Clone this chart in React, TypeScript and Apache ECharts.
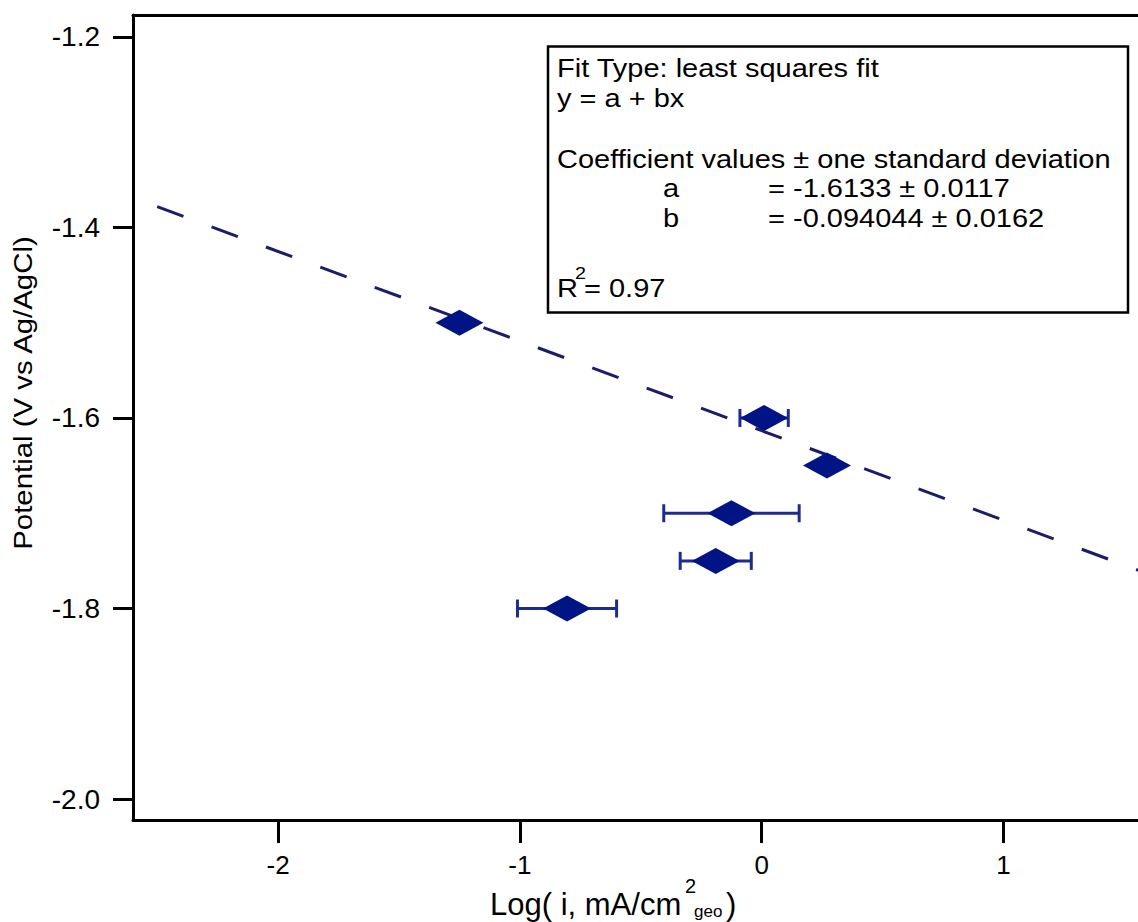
import React, { useEffect, useRef } from "react";
import * as echarts from "echarts";

// ---- data ----
const xTicks = [-2, -1, 0, 1];
const yTicks = [-2.0, -1.8, -1.6, -1.4, -1.2];
const logI = [-1.25, 0.01, 0.27, -0.125, -0.19, -0.805];
const potential = [-1.5, -1.6, -1.65, -1.7, -1.75, -1.8];
const logIErr = [0, 0.1, 0.02, 0.28, 0.147, 0.205];
const fitX = [-2.5, 1.7];
const fitY = [-1.3782, -1.7732];
const fitLines = [
  "Fit Type: least squares fit",
  "y = a + bx",
  "Coefficient values ± one standard deviation",
];
const coefNames = ["a", "b"];
const coefValues = ["= -1.6133 ± 0.0117", "= -0.094044 ± 0.0162"];
const rSquared = "= 0.97";

const FONT = "'Liberation Sans', Arial, Helvetica, sans-serif";
const NAVY = "#001485";
const BAR = "#1e2b8f";
const FITCOL = "#1c1c68";

export default function App() {
  const ref = useRef<HTMLDivElement>(null);
  useEffect(() => {
    if (!ref.current) return;
    const chart = echarts.init(ref.current, undefined, { renderer: "svg" });
    const fs = 25;
    const sx = 1.16;
    const mid = (baseline: number, size: number) => baseline - 0.3465 * size;
    const boxText = (text: string, x: number, baseline: number) => ({
      type: "text",
      x,
      y: mid(baseline, fs),
      scaleX: sx,
      z: 101,
      style: {
        text,
        fill: "#000",
        fontSize: fs,
        fontFamily: FONT,
        align: "left",
        verticalAlign: "middle",
      },
    });
    const xMin = -2.6;
    const xMax = -2.6 + 1005 / 241.8;
    const option: any = {
      animation: false,
      backgroundColor: "#fff",
      grid: {
        left: 133,
        top: 15,
        right: 0,
        height: 805,
        show: false,
        containLabel: false,
      },
      xAxis: [
        {
          type: "value",
          min: xMin,
          max: xMax,
          axisLine: { show: true, onZero: false, lineStyle: { color: "#000", width: 3 } },
          axisTick: {
            show: true,
            inside: false,
            length: 23,
            customValues: xTicks,
            lineStyle: { color: "#000", width: 3 },
          },
          axisLabel: {
            customValues: xTicks,
            margin: 32,
            fontSize: 26,
            fontFamily: FONT,
            color: "#000",
          },
          splitLine: { show: false },
        },
        {
          type: "value",
          position: "top",
          min: xMin,
          max: xMax,
          axisLine: { show: true, onZero: false, lineStyle: { color: "#000", width: 3 } },
          axisTick: { show: false },
          axisLabel: { show: false },
          splitLine: { show: false },
        },
      ],
      yAxis: {
        type: "value",
        min: -2.022,
        max: -1.177,
        axisLine: { show: true, onZero: false, lineStyle: { color: "#000", width: 3 } },
        axisTick: {
          show: true,
          inside: false,
          length: 20,
          customValues: yTicks,
          lineStyle: { color: "#000", width: 3 },
        },
        axisLabel: {
          customValues: yTicks,
          margin: 33,
          fontSize: 28,
          fontFamily: FONT,
          color: "#000",
          formatter: (v: number) => v.toFixed(1),
        },
        splitLine: { show: false },
      },
      series: [
        {
          type: "line",
          data: fitX.map((x, i) => [x, fitY[i]]),
          symbol: "none",
          clip: true,
          z: 2,
          lineStyle: { color: FITCOL, width: 3, type: [28, 30] },
        },
        {
          type: "custom",
          z: 3,
          data: logI.map((x, i) => [x, potential[i], logIErr[i]]),
          encode: { x: 0, y: 1 },
          renderItem: (_p: any, api: any) => {
            const x = api.value(0);
            const y = api.value(1);
            const e = api.value(2);
            if (!e) return { type: "group", children: [] };
            const p1 = api.coord([x - e, y]);
            const p2 = api.coord([x + e, y]);
            const h = 9;
            const style = { stroke: BAR, lineWidth: 3 };
            return {
              type: "group",
              children: [
                { type: "line", shape: { x1: p1[0], y1: p1[1], x2: p2[0], y2: p2[1] }, style },
                { type: "line", shape: { x1: p1[0], y1: p1[1] - h, x2: p1[0], y2: p1[1] + h }, style },
                { type: "line", shape: { x1: p2[0], y1: p2[1] - h, x2: p2[0], y2: p2[1] + h }, style },
              ],
            };
          },
        },
        {
          type: "scatter",
          z: 4,
          symbol: "diamond",
          symbolSize: [48, 26],
          data: logI.map((x, i) => [x, potential[i]]),
          itemStyle: { color: NAVY, opacity: 1 },
        },
      ],
      graphic: [
        {
          type: "rect",
          z: 100,
          shape: { x: 548, y: 46.5, width: 580, height: 266 },
          style: { fill: "#fff", stroke: "#000", lineWidth: 2.5 },
        },
        boxText(fitLines[0], 557, 77),
        boxText(fitLines[1], 557, 107),
        boxText(fitLines[2], 557, 168),
        boxText(coefNames[0], 663, 197),
        boxText(coefValues[0], 768, 197),
        boxText(coefNames[1], 663, 227),
        boxText(coefValues[1], 768, 227),
        boxText("R", 557, 297),
        {
          type: "text",
          x: 575,
          y: mid(279, 17),
          scaleX: sx,
          z: 101,
          style: { text: "2", fill: "#000", fontSize: 17, fontFamily: FONT, align: "left", verticalAlign: "middle" },
        },
        boxText(rSquared, 584, 297),
        // y-axis title
        {
          type: "text",
          x: 23,
          y: 393,
          rotation: Math.PI / 2,
          scaleX: 1.13,
          style: {
            text: "Potential (V vs Ag/AgCl)",
            fill: "#000",
            fontSize: 26,
            fontFamily: FONT,
            align: "center",
            verticalAlign: "middle",
          },
        },
        // x-axis title
        {
          type: "text",
          x: 490,
          y: mid(915, 31),
          style: { text: "Log( i, mA/cm", fill: "#000", fontSize: 31, fontFamily: FONT, align: "left", verticalAlign: "middle" },
        },
        {
          type: "text",
          x: 685,
          y: mid(893, 20),
          style: { text: "2", fill: "#000", fontSize: 20, fontFamily: FONT, align: "left", verticalAlign: "middle" },
        },
        {
          type: "text",
          x: 694,
          y: mid(917, 17),
          style: { text: "geo", fill: "#000", fontSize: 17, fontFamily: FONT, align: "left", verticalAlign: "middle" },
        },
        {
          type: "text",
          x: 726,
          y: mid(915, 31),
          style: { text: ")", fill: "#000", fontSize: 31, fontFamily: FONT, align: "left", verticalAlign: "middle" },
        },
      ],
    };
    chart.setOption(option);
    return () => chart.dispose();
  }, []);
  return (
    <div
      ref={ref}
      style={{ position: "fixed", left: 0, top: 0, width: 1138, height: 922, background: "#fff" }}
    />
  );
}
